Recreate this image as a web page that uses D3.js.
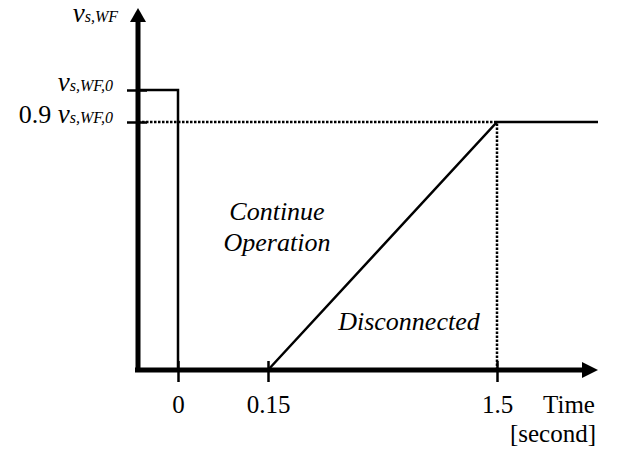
<!DOCTYPE html>
<html>
<head>
<meta charset="utf-8">
<script src="https://cdn.jsdelivr.net/npm/d3@7"></script>
<style>
  html, body { margin: 0; padding: 0; background: #fff; }
  svg { display: block; }
</style>
</head>
<body>
<svg id="chart" width="622" height="460"></svg>
<script>
// ---- data ----
const xTickValues = [0, 0.15, 1.5];
const xTickLabels = ["0", "0.15", "1.5"];
const yTickValues = [1, 0.9];
const yTickLabels = [["", "v", "s,WF,0"], ["0.9 ", "v", "s,WF,0"]];
const stepTime = [-0.1, 0, 0];
const stepValue = [1, 1, 0];
const rampTime = [0.15, 1.5, 2.0];
const rampValue = [0, 0.9, 0.9];
const guideLevel = 0.9;
const guideTime = 1.5;
const regionLabels = [
  { lines: ["Continue", "Operation"], t: 0.203, v: 0.544 },
  { lines: ["Disconnected"], t: 0.981, v: 0.145 }
];

const SERIF = "'Liberation Serif', 'Times New Roman', serif";

// ---- scales (schematic, piecewise) ----
const svg = d3.select("#chart");
const x = d3.scaleLinear().domain([-0.1, 0, 0.15, 1.5, 2.0]).range([138, 178, 268, 497, 598]);
const y = d3.scaleLinear().domain([0, 0.9, 1, 1.3]).range([370, 122, 90, 8]);

const line = d3.line().x(d => x(d[0])).y(d => y(d[1]));

// dotted guides
[[[-0.1, guideLevel], [guideTime, guideLevel]], [[guideTime, 0], [guideTime, guideLevel]]].forEach(seg => {
  svg.append("path")
    .attr("d", line(seg))
    .attr("fill", "none").attr("stroke", "#000").attr("stroke-width", 2.5)
    .attr("stroke-dasharray", "2.5,1.5");
});

// step line
svg.append("path")
  .attr("d", line(stepTime.map((t, i) => [t, stepValue[i]])))
  .attr("fill", "none").attr("stroke", "#000").attr("stroke-width", 2.5);

// ramp line
svg.append("path")
  .attr("d", line(rampTime.map((t, i) => [t, rampValue[i]])))
  .attr("fill", "none").attr("stroke", "#000").attr("stroke-width", 2.5);

// x axis
const xAxisG = svg.append("g").attr("transform", `translate(0,${y(0)})`)
  .call(d3.axisBottom(x).tickValues(xTickValues)
    .tickFormat((d, i) => xTickLabels[i]).tickSizeOuter(0).tickSize(10).tickPadding(0));
xAxisG.select(".domain").remove();
xAxisG.selectAll(".tick line").attr("y1", -9).attr("y2", 12).attr("stroke-width", 2.5);
xAxisG.selectAll(".tick text").attr("y", 43).attr("dy", 0)
  .attr("font-size", 25).attr("font-family", SERIF);

svg.append("line").attr("x1", 135).attr("x2", x(2.0) - 14)
  .attr("y1", y(0)).attr("y2", y(0)).attr("stroke", "#000").attr("stroke-width", 5);
svg.append("path")
  .attr("d", `M${x(2.0)},${y(0)} L${x(2.0) - 16},${y(0) - 8} L${x(2.0) - 16},${y(0) + 8} Z`)
  .attr("fill", "#000");

// y axis
const yAxisG = svg.append("g").attr("transform", `translate(${x(-0.1)},0)`)
  .call(d3.axisLeft(y).tickValues(yTickValues).tickFormat("").tickSizeOuter(0).tickSize(10));
yAxisG.select(".domain").remove();
yAxisG.selectAll(".tick line").attr("x1", -11).attr("x2", 9).attr("stroke-width", 2.5);

svg.append("line").attr("x1", x(-0.1)).attr("x2", x(-0.1))
  .attr("y1", y(0) + 2).attr("y2", y(1.3) + 12).attr("stroke", "#000").attr("stroke-width", 5);
svg.append("path")
  .attr("d", `M${x(-0.1)},${y(1.3)} L${x(-0.1) - 8},${y(1.3) + 14} L${x(-0.1) + 8},${y(1.3) + 14} Z`)
  .attr("fill", "#000");

// y tick labels
yTickValues.forEach((v, i) => {
  const [pre, main, sub] = yTickLabels[i];
  const t = svg.append("text").attr("x", 113).attr("y", y(v) + 1).attr("text-anchor", "end")
    .attr("font-family", SERIF);
  if (pre) t.append("tspan").attr("font-size", 26).text(pre);
  t.append("tspan").attr("font-size", 27).attr("font-style", "italic").text(main);
  t.append("tspan").attr("font-size", 16).attr("font-style", "italic").text(sub);
});

// y axis title
const yt = svg.append("text").attr("x", 118).attr("y", 22).attr("text-anchor", "end")
  .attr("font-family", SERIF);
yt.append("tspan").attr("font-size", 27).attr("font-style", "italic").text("v");
yt.append("tspan").attr("font-size", 16).attr("font-style", "italic").text("s,WF");

// x axis title
svg.append("text").attr("x", 569).attr("y", 413).attr("text-anchor", "middle")
  .attr("font-family", SERIF).attr("font-size", 25).text("Time");
svg.append("text").attr("x", 553).attr("y", 442).attr("text-anchor", "middle")
  .attr("font-family", SERIF).attr("font-size", 25).text("[second]");

// region labels
regionLabels.forEach(r => {
  r.lines.forEach((ln, j) => {
    svg.append("text").attr("x", x(r.t)).attr("y", y(r.v) + j * 31)
      .attr("text-anchor", "middle").attr("font-family", SERIF)
      .attr("font-size", 26).attr("font-style", "italic")
      .text(ln);
  });
});
</script>
</body>
</html>
